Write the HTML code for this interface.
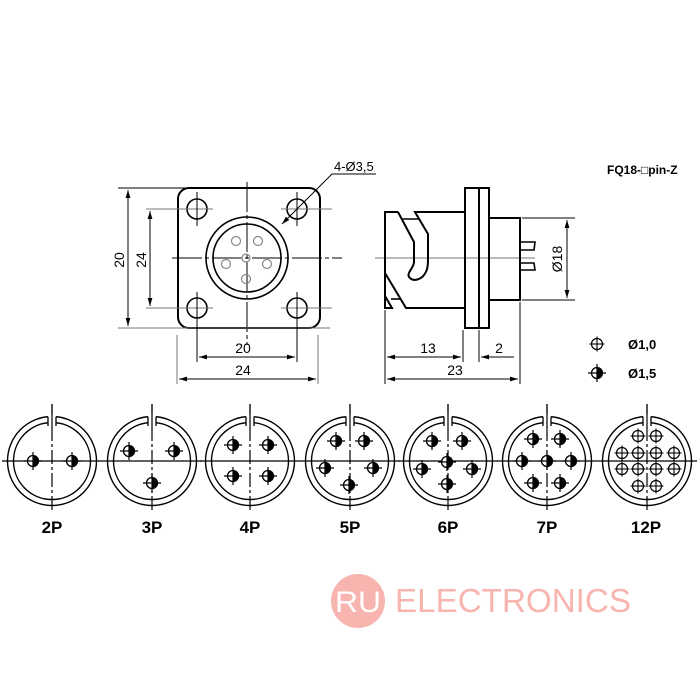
<!DOCTYPE html>
<html><head><meta charset="utf-8"><style>
html,body{margin:0;padding:0;background:#fff;}
svg{display:block;}
text{font-family:"Liberation Sans",sans-serif;}
</style></head><body>
<svg width="700" height="700" viewBox="0 0 700 700" xmlns="http://www.w3.org/2000/svg">
<defs>
<g id="p">
<circle r="5.5" fill="#fff" stroke="#000" stroke-width="1.3"/>
<path d="M0,-5.5 A5.5,5.5 0 0 1 0,5.5 Z" fill="#000"/>
<line x1="-9" y1="0" x2="9" y2="0" stroke="#000" stroke-width="1.2"/>
<line x1="0" y1="-9" x2="0" y2="9" stroke="#000" stroke-width="1.2"/>
</g>
<g id="q">
<circle r="5.5" fill="#fff" stroke="#000" stroke-width="1.2"/>
<line x1="-7.5" y1="0" x2="7.5" y2="0" stroke="#000" stroke-width="1.1"/>
<line x1="0" y1="-7.5" x2="0" y2="7.5" stroke="#000" stroke-width="1.1"/>
</g>
<g id="ring">
<line x1="-50" y1="0" x2="50" y2="0" stroke="#000" stroke-width="1.2"/>
<line x1="0" y1="-57" x2="0" y2="50" stroke="#000" stroke-width="1.2" stroke-dasharray="14,3,3,3"/>
<circle r="44.5" fill="none" stroke="#000" stroke-width="1.4"/>
<circle r="38.5" fill="none" stroke="#000" stroke-width="1.4"/>
<rect x="-4" y="-47" width="8" height="12" fill="#fff"/>
<path d="M-4,-44.3 V-35 M4,-44.3 V-35" fill="none" stroke="#000" stroke-width="1.3"/>
<line x1="0" y1="-57" x2="0" y2="-33" stroke="#000" stroke-width="1.2"/>
</g>
<marker id="a" viewBox="0 0 10 6" refX="10" refY="3" markerWidth="8" markerHeight="5" orient="auto-start-reverse"><path d="M0,0 L10,3 L0,6 z" fill="#000"/></marker>
</defs>

<!-- front view -->
<g stroke="#000" fill="none">
<line x1="172" y1="258" x2="342" y2="258" stroke-width="1" stroke-dasharray="30,3,4,3"/>
<line x1="247" y1="182" x2="247" y2="345" stroke-width="1" stroke-dasharray="30,3,4,3"/>
<rect x="178" y="188" width="142" height="140" rx="11" stroke-width="2"/>
<circle cx="197" cy="209" r="10" stroke-width="1.6"/>
<circle cx="297" cy="209" r="10" stroke-width="1.6"/>
<circle cx="197" cy="308" r="10" stroke-width="1.6"/>
<circle cx="297" cy="308" r="10" stroke-width="1.6"/>
<g stroke="#777" stroke-width="1"><line x1="146" y1="209" x2="213" y2="209"/><line x1="281" y1="209" x2="332" y2="209"/><line x1="146" y1="308" x2="213" y2="308"/><line x1="281" y1="308" x2="332" y2="308"/>
<line x1="118" y1="328" x2="330" y2="328"/></g>
<line x1="197" y1="192" x2="197" y2="226" stroke-width="1"/><line x1="297" y1="192" x2="297" y2="226" stroke-width="1"/>
<line x1="197" y1="292" x2="197" y2="362" stroke-width="1"/><line x1="297" y1="292" x2="297" y2="362" stroke-width="1"/>
<line x1="118" y1="188" x2="185" y2="188" stroke-width="1"/>
<circle cx="247" cy="258" r="41" stroke-width="1.6"/>
<circle cx="247" cy="258" r="34" stroke-width="1.6"/>
<g stroke="#888" stroke-width="1.2"><circle cx="236" cy="241" r="4.5"/><circle cx="258" cy="241" r="4.5"/><circle cx="226" cy="264" r="4.5"/><circle cx="267" cy="264" r="4.5"/><circle cx="246" cy="279" r="4.5"/><circle cx="246" cy="258" r="4"/></g>
<line x1="177" y1="335" x2="177" y2="384" stroke="#777" stroke-width="1"/><line x1="318" y1="335" x2="318" y2="384" stroke="#777" stroke-width="1"/>
<line x1="128" y1="190" x2="128" y2="326" stroke-width="1" marker-start="url(#a)" marker-end="url(#a)"/>
<line x1="150" y1="211" x2="150" y2="306" stroke-width="1" marker-start="url(#a)" marker-end="url(#a)"/>
<line x1="199" y1="357" x2="295" y2="357" stroke-width="1" marker-start="url(#a)" marker-end="url(#a)"/>
<line x1="179" y1="379" x2="316" y2="379" stroke-width="1" marker-start="url(#a)" marker-end="url(#a)"/>
<polyline points="282,224 332,174 376,174" stroke-width="1" marker-start="url(#a)"/>
</g>
<g font-size="14" fill="#000">
<text x="124" y="260" text-anchor="middle" transform="rotate(-90 124 260)">20</text>
<text x="146" y="260" text-anchor="middle" transform="rotate(-90 146 260)">24</text>
<text x="243" y="353" text-anchor="middle">20</text>
<text x="243" y="375" text-anchor="middle">24</text>
<text x="334" y="171" font-size="13">4-Ø3,5</text>
</g>

<!-- side view -->
<g stroke="#000" fill="none" stroke-width="2">
<line x1="375" y1="258" x2="535" y2="258" stroke="#777" stroke-width="1"/>
<path d="M398,212 H385 V308 H392 L385,296"/>
<path d="M398,212 L414,242 V262 C414,268 405,274 410,278 C414,282 421,279 424,275 C428,270 428,264 428,258 V234 L415,212 H465"/>
<path d="M402,219 H419" stroke-width="1.6"/>
<path d="M385,273 L406,308 H465"/>
<path d="M391,299 H401" stroke-width="1.6"/>
<rect x="465" y="188" width="24" height="140"/>
<line x1="479" y1="188" x2="479" y2="328"/>
<rect x="489" y="218" width="31" height="82"/>
<path d="M520,242 H535 L534,250 H520 M520,263 H534 L535,270 H520" stroke-width="1.6"/>
<g stroke-width="1"><line x1="522" y1="218" x2="575" y2="218"/><line x1="522" y1="300" x2="575" y2="300"/>
<line x1="567" y1="220" x2="567" y2="298" marker-start="url(#a)" marker-end="url(#a)"/>
<line x1="385" y1="310" x2="385" y2="384"/><line x1="463" y1="330" x2="463" y2="362"/><line x1="479" y1="330" x2="479" y2="362"/><line x1="520" y1="302" x2="520" y2="384"/>
<line x1="387" y1="357" x2="461" y2="357" marker-start="url(#a)" marker-end="url(#a)"/>
<line x1="481" y1="357" x2="514" y2="357" marker-start="url(#a)"/>
<line x1="387" y1="379" x2="518" y2="379" marker-start="url(#a)" marker-end="url(#a)"/></g>
</g>
<g font-size="14" fill="#000">
<text x="562" y="259" text-anchor="middle" transform="rotate(-90 562 259)">Ø18</text>
<text x="428" y="353" text-anchor="middle">13</text>
<text x="499" y="353" text-anchor="middle">2</text>
<text x="455" y="375" text-anchor="middle">23</text>
<text x="607" y="174" font-size="12" font-weight="bold">FQ18-□pin-Z</text>
<text x="628" y="349" font-size="13" font-weight="bold">Ø1,0</text>
<text x="628" y="378" font-size="13" font-weight="bold">Ø1,5</text>
</g>
<use href="#q" x="597" y="344"/>
<use href="#p" x="597" y="373"/>

<!-- connectors -->
<g transform="translate(52,461)"><use href="#ring"/></g>
<use href="#p" x="33" y="461"/><use href="#p" x="72" y="461"/>
<g transform="translate(152,461)"><use href="#ring"/></g>
<use href="#p" x="129" y="451"/><use href="#p" x="174" y="451"/><use href="#p" x="152" y="483"/>
<g transform="translate(250,461)"><use href="#ring"/></g>
<use href="#p" x="233" y="445"/><use href="#p" x="268" y="445"/><use href="#p" x="233" y="476"/><use href="#p" x="268" y="476"/>
<g transform="translate(350,461)"><use href="#ring"/></g>
<use href="#p" x="336" y="441"/><use href="#p" x="364" y="441"/><use href="#p" x="325" y="468"/><use href="#p" x="373" y="468"/><use href="#p" x="349" y="485"/>
<g transform="translate(448,461)"><use href="#ring"/></g>
<use href="#p" x="432" y="441"/><use href="#p" x="462" y="441"/><use href="#p" x="447" y="462"/><use href="#p" x="422" y="469"/><use href="#p" x="472" y="469"/><use href="#p" x="447" y="484"/>
<g transform="translate(547,461)"><use href="#ring"/></g>
<use href="#p" x="533" y="439"/><use href="#p" x="560" y="439"/><use href="#p" x="522" y="461"/><use href="#p" x="547" y="461"/><use href="#p" x="571" y="461"/><use href="#p" x="533" y="483"/><use href="#p" x="560" y="483"/>
<g transform="translate(647,461)"><use href="#ring"/></g>
<use href="#q" x="638" y="436"/><use href="#q" x="656" y="436"/>
<use href="#q" x="622" y="453"/><use href="#q" x="638" y="453"/><use href="#q" x="656" y="453"/><use href="#q" x="674" y="453"/>
<use href="#q" x="622" y="469"/><use href="#q" x="638" y="469"/><use href="#q" x="656" y="469"/><use href="#q" x="674" y="469"/>
<use href="#q" x="638" y="486"/><use href="#q" x="656" y="486"/>

<g font-size="17" font-weight="bold" fill="#000" text-anchor="middle">
<text x="52" y="533">2P</text><text x="152" y="533">3P</text><text x="250" y="533">4P</text><text x="350" y="533">5P</text><text x="448" y="533">6P</text><text x="547" y="533">7P</text><text x="646" y="533">12P</text>
</g>

<!-- watermark -->
<circle cx="358" cy="601" r="27" fill="#f8b4ae"/>
<text x="358" y="612" font-size="30" fill="#fff" text-anchor="middle" textLength="46" lengthAdjust="spacingAndGlyphs">RU</text>
<text x="395" y="612" font-size="33" fill="#f8b4ae" textLength="236" lengthAdjust="spacingAndGlyphs">ELECTRONICS</text>
</svg>
</body></html>
